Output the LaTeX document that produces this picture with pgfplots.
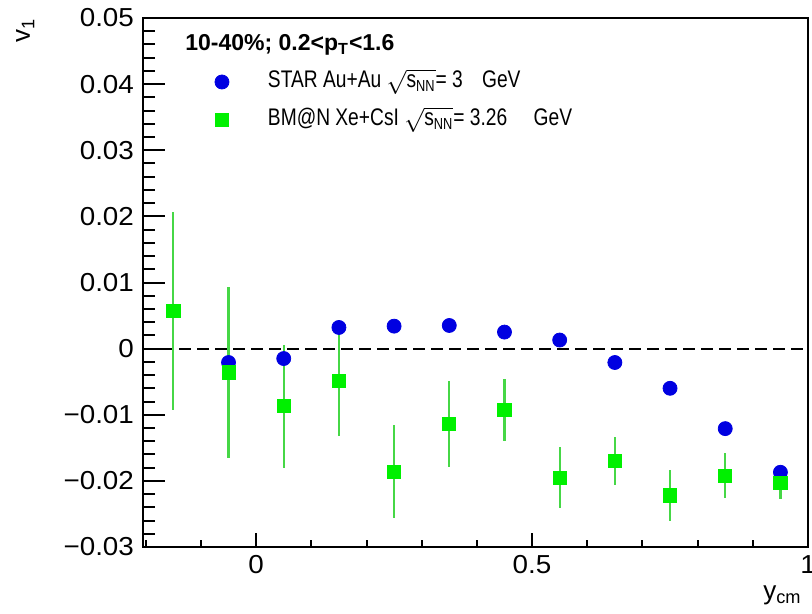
\documentclass[border=0pt]{standalone}
\usepackage{fontspec}
\setmainfont{Liberation Sans}
\newfontfamily\narrowsans[FakeStretch=0.8]{Liberation Sans}
\newfontfamily\widesans[FakeStretch=1.07]{Liberation Sans}
\usepackage{amsmath}
\usepackage{pgfplots}
\pgfplotsset{compat=1.18}
\definecolor{starblue}{RGB}{0,0,225}
\definecolor{bmngreen}{RGB}{0,240,0}
\definecolor{errgreen}{RGB}{70,215,70}

\pgfplotstableread{
x y
-0.05 -0.0021
0.05 -0.0015
0.15 0.0032
0.25 0.0034
0.35 0.0035
0.45 0.0025
0.55 0.0013
0.65 -0.0021
0.75 -0.0060
0.85 -0.0121
0.95 -0.0187
}\stardata

\pgfplotstableread{
x y e
-0.15 0.0057 0.0150
-0.05 -0.0036 0.0129
0.05 -0.0087 0.0093
0.15 -0.0049 0.0083
0.25 -0.0186 0.0070
0.35 -0.0114 0.0065
0.45 -0.0093 0.0047
0.55 -0.0195 0.0046
0.65 -0.0170 0.0036
0.75 -0.0222 0.0038
0.85 -0.0192 0.0034
0.95 -0.0203 0.0025
}\bmndata

\pgfplotsset{
  baseax/.style={
    scale only axis,
    width=332.5pt, height=264.5pt,
    xmin=-0.205, xmax=1, ymin=-0.03, ymax=0.05,
    axis line style={line width=1pt, black},
    tick style={line width=1pt, black},
    tick align=inside,
    xtick pos=left, ytick pos=left,
    scaled x ticks=false, scaled y ticks=false,
    clip=false,
  },
  myimg/.style={legend image code/.code={\path[draw=none,fill=none] (-8pt,-5pt) rectangle (8pt,5pt);
    \draw[##1] plot coordinates {(0pt,0pt)};}},
}

\begin{document}
\begin{tikzpicture}
\useasboundingbox (-71.5pt,-33.5pt) rectangle (334.5pt,273.5pt);

% axis for x ticks
\begin{axis}[baseax,
  ytick=\empty,
  xtick={0,0.5,1}, xticklabels={0,0.5,1},
  minor xtick={-0.2,-0.1,0.1,0.2,0.3,0.4,0.6,0.7,0.8,0.9},
  major tick length=7pt, minor tick length=3.5pt,
  xticklabel style={font=\widesans\fontsize{13}{15}\selectfont, yshift=-0.7pt},
]
\end{axis}

% axis for y ticks and data
\begin{axis}[baseax,
  xtick=\empty,
  ytick={-0.03,-0.02,-0.01,0,0.01,0.02,0.03,0.04,0.05},
  yticklabels={−0.03,−0.02,−0.01,0,0.01,0.02,0.03,0.04,0.05},
  minor y tick num=4,
  major tick length=11pt, minor tick length=6pt,
  yticklabel style={font=\widesans\fontsize{13}{15}\selectfont, xshift=-1pt},
  legend style={at={(0.0947,0.9055)}, anchor=north west, draw=none, fill=none,
    inner sep=0pt, outer sep=0pt, column sep=15pt, row sep=5pt,
    font=\narrowsans\fontsize{12}{14}\selectfont,
    nodes={inner sep=0pt, text height=10pt, text depth=4pt, anchor=west}},
  legend cell align=left,
]
\addplot[forget plot, black, line width=1pt, dash pattern=on 6pt off 3pt]
  coordinates {(-0.205,0) (1,0)};

\addplot[only marks, mark=*, mark size=3.5pt, color=starblue,
  mark options={draw=starblue, fill=starblue}, myimg]
  table[x=x, y=y] {\stardata};
\addlegendentry{STAR Au+Au $\sqrt{\text{s}_{\text{NN}}}$= 3\hspace{0.8em}GeV}

\addplot[only marks, mark=square*, mark size=3.3pt, color=bmngreen,
  mark options={draw=bmngreen, fill=bmngreen}, myimg,
  error bars/.cd, y dir=both, y explicit, error mark=none,
  error bar style={line width=1.1pt, errgreen}]
  table[x=x, y=y, y error=e] {\bmndata};
\addlegendentry{BM@N Xe+CsI $\sqrt{\text{s}_{\text{NN}}}$= 3.26\hspace{1.1em}GeV}
\end{axis}

\node[anchor=base west, font=\bfseries\fontsize{11.5}{14}\selectfont, inner sep=0pt]
  at (21pt,248pt) {10-40\%; 0.2<p\textsubscript{T}<1.6};
\node[rotate=90, anchor=base east, font=\fontsize{13}{15}\selectfont, inner sep=0pt]
  at (-56.5pt,264.5pt) {v\textsubscript{1}};
\node[anchor=base east, font=\fontsize{13}{15}\selectfont, inner sep=0pt]
  at (329.5pt,-26.5pt) {y\textsubscript{cm}};
\end{tikzpicture}
\end{document}
